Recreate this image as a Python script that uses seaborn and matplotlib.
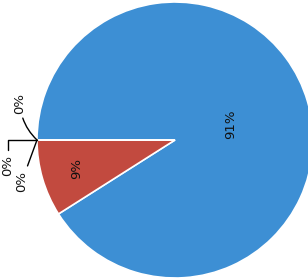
import numpy as np
import matplotlib
matplotlib.use("Agg")
import matplotlib.pyplot as plt
import seaborn as sns

# slice shares (percent), in drawing order
categories = ["A", "B", "C", "D", "E"]
shares = [91, 9, 0, 0, 0]
labels = ["91%", "9%", "0%", "0%", "0%"]

sns.set_theme(style="white")
plt.rcParams['font.family'] = ['DejaVu Sans']

colors = sns.color_palette(["#3d8fd4", "#c24a3f", "#9bbb59", "#8064a2", "#4bacc6"])

fig = plt.figure(figsize=(3.08, 2.79), dpi=100)
ax = fig.add_axes([0, 0, 1, 1])

center = (175, 139)
radius = 138
start = 180

wedges, _ = ax.pie(shares, colors=colors, startangle=start, counterclock=False,
                   center=center, radius=radius, frame=True,
                   wedgeprops=dict(edgecolor='white', linewidth=1.2))
ax.set_xlim(0, 308)
ax.set_ylim(0, 279)
ax.set_aspect('equal')
ax.axis('off')

# percentage labels inside the two visible slices
fracs = np.array(shares) / sum(shares)
cum = np.cumsum(np.r_[0, fracs])
dist = [0.42, 0.74]
for i in range(2):
    mid = np.deg2rad(start - 360 * (cum[i] + cum[i + 1]) / 2)
    ax.text(center[0] + dist[i] * radius * np.cos(mid),
            center[1] + dist[i] * radius * np.sin(mid),
            labels[i], rotation=90, ha='center', va='center', fontsize=9.5, color='#111111')

# zero slices sit on the start edge, labelled outside with leaders
edge = (center[0] - radius, center[1])
offsets = [(-17, 37), (-29, -25), (-15, -41)]
conns = ["arc3,rad=0.2", "angle,angleA=90,angleB=0,rad=0", "arc3"]
for lab, off, cs in zip(labels[2:], offsets, conns):
    ax.annotate(lab, xy=edge, xytext=(edge[0] + off[0], edge[1] + off[1]),
                rotation=90, ha='center', va='center', fontsize=9.5, color='#111111',
                arrowprops=dict(arrowstyle='-', color='black', lw=1,
                                connectionstyle=cs, shrinkA=1, shrinkB=0))

fig.savefig("out.png", dpi=100)
